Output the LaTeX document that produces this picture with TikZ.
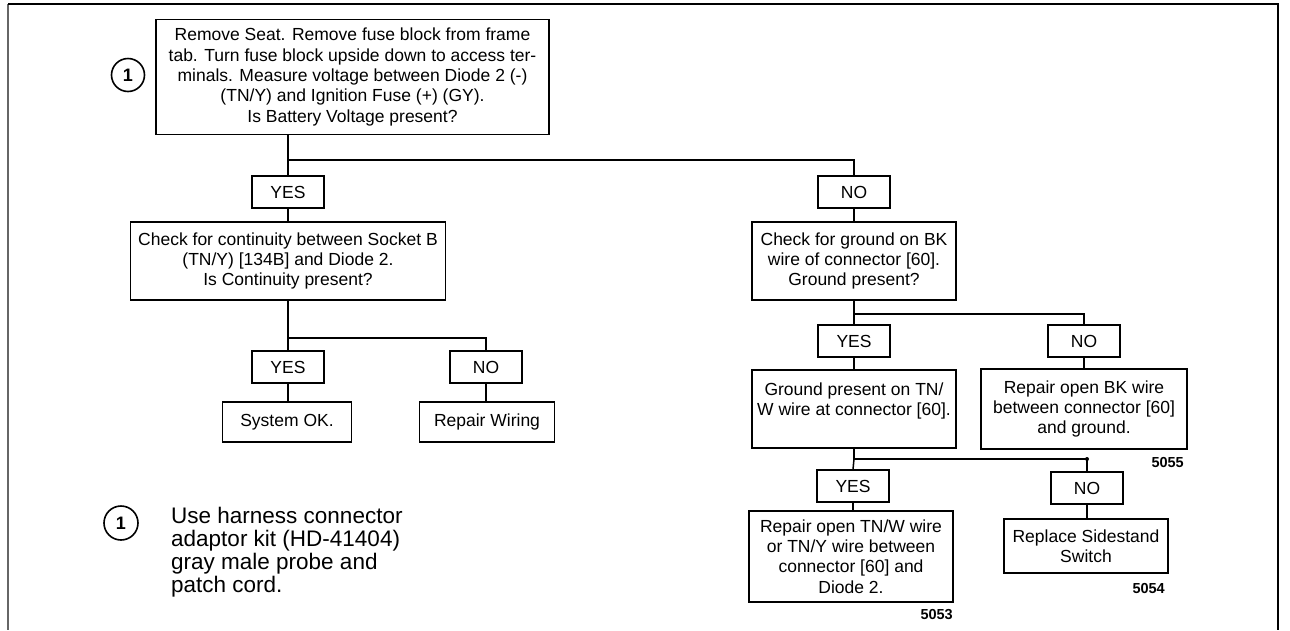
\documentclass[tikz,border=0pt]{standalone}
\usepackage{fontspec}
\setmainfont{Liberation Sans}
\begin{document}
\begin{tikzpicture}[x=1pt,y=-1pt,
  box/.style={draw, line width=1.5pt, align=center, inner sep=0pt, font=\fontsize{17.5}{20.3}\selectfont},
  lbl/.style={box, minimum width=72pt, minimum height=32pt},
  conn/.style={line width=1.5pt},
  num/.style={font=\bfseries\fontsize{14.5}{16}\selectfont, inner sep=0pt},
  mark1/.style={circle, draw, line width=1.6pt, inner sep=0pt, minimum size=33pt, font=\bfseries\fontsize{18}{18}\selectfont}]
\useasboundingbox (0,0) rectangle (1290,630);
% frame
\draw[line width=1.5pt, gray!80!black] (8,4) -- (8,630);
\draw[line width=1.5pt] (8,4) -- (1278,4) -- (1278,630);

% top
\node[box, minimum width=393pt, minimum height=115pt] (top) at (352.5,77)
  {Remove Seat. Remove fuse block from frame\\tab. Turn fuse block upside down to access ter-\\minals. Measure voltage between Diode 2 (-)\\(TN/Y) and Ignition Fuse (+) (GY).\\Is Battery Voltage present?};
\node[mark1] (c1) at (128,75) {1};

% left branch
\node[lbl] (yes1) at (288,192) {YES};
\node[box, minimum width=315pt, minimum height=78pt] (chk1) at (288,261)
  {Check for continuity between Socket B\\(TN/Y) [134B] and Diode 2.\\Is Continuity present?};
\node[lbl] (yes2) at (288,367) {YES};
\node[lbl] (no2) at (486,367) {NO};
\node[box, minimum width=129pt, minimum height=40pt] (sysok) at (287,422) {System OK.};
\node[box, minimum width=135pt, minimum height=40pt] (rw) at (487,422) {Repair Wiring};

% right branch
\node[lbl] (no1) at (854,192) {NO};
\node[box, minimum width=204pt, minimum height=78pt] (chk2) at (854,261)
  {Check for ground on BK\\wire of connector [60].\\Ground present?};
\node[lbl] (yes3) at (854,341) {YES};
\node[lbl] (no3) at (1084,341) {NO};
\node[box, minimum width=204pt, minimum height=78pt] (gp) at (854,409)
  {Ground present on TN/\\W wire at connector [60].\\\mbox{}};
\node[box, minimum width=206pt, minimum height=80pt] (bk) at (1084,409)
  {Repair open BK wire\\between connector [60]\\and ground.};
\node[num, anchor=east] (n5055) at (1184,462) {5055};
\node[lbl] (yes4) at (853,486) {YES};
\node[lbl] (no4) at (1087,488) {NO};
\node[box, minimum width=204pt, minimum height=91pt] (tnw) at (851,556.5)
  {Repair open TN/W wire\\or TN/Y wire between\\connector [60] and\\Diode 2.};
\node[box, minimum width=164pt, minimum height=54pt] (ss) at (1086,546)
  {Replace Sidestand\\Switch};
\node[num, anchor=east] (n5054) at (1165,588) {5054};
\node[num, anchor=east] (n5053) at (953,615) {5053};

% footnote
\node[mark1, minimum size=34pt] (c2) at (121,523) {1};
\node[anchor=north west, align=left, inner sep=0pt, font=\fontsize{22.5}{23}\selectfont] (fn) at (171,507)
  {Use harness connector\\adaptor kit (HD-41404)\\gray male probe and\\patch cord.};

% connectors
\coordinate (j1) at (288,160);
\draw[conn] (top.south -| j1) -- (j1) -| (no1.north);
\draw[conn] (j1) -- (yes1.north);
\draw[conn] (yes1.south) -- (yes1.south |- chk1.north);
\coordinate (j2) at (288,338);
\draw[conn] (chk1.south -| j2) -- (j2) -| (no2.north);
\draw[conn] (j2) -- (yes2.north);
\draw[conn] (yes2.south) -- (yes2.south |- sysok.north);
\draw[conn] (no2.south) -- (no2.south |- rw.north);
\draw[conn] (no1.south) -- (no1.south |- chk2.north);
\coordinate (j3) at (854,314);
\draw[conn] (chk2.south -| j3) -- (j3) -| (no3.north);
\draw[conn] (j3) -- (yes3.north);
\draw[conn] (yes3.south) -- (yes3.south |- gp.north);
\draw[conn] (no3.south) -- (no3.south |- bk.north);
\coordinate (j4) at (854,459);
\draw[conn] (gp.south -| j4) -- (j4) -| (no4.north);
\fill (j4 -| no4) circle (2pt);
\draw[conn] (j4) -- (yes4.north);
\draw[conn] (yes4.south) -- (yes4.south |- tnw.north);
\draw[conn] (no4.south) -- (no4.south |- ss.north);
\end{tikzpicture}
\end{document}
